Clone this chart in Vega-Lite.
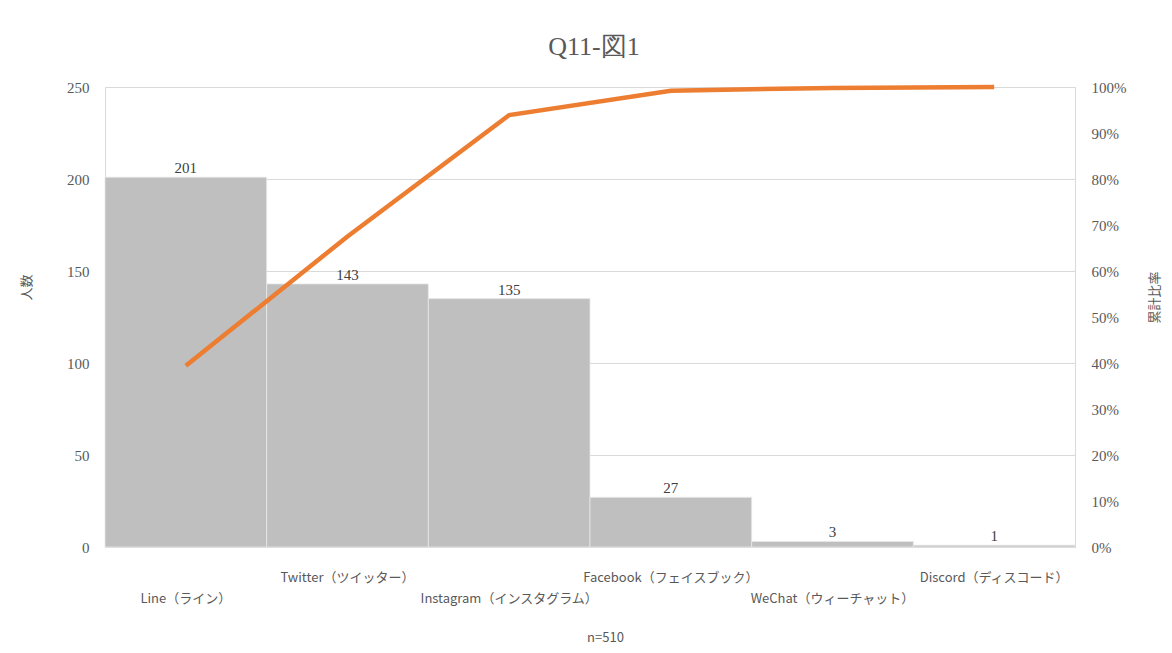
{
  "$schema": "https://vega.github.io/schema/vega-lite/v6.json",
  "width": 970,
  "height": 460,
  "autosize": {"type": "none"},
  "padding": {"left": 105, "top": 87, "right": 97, "bottom": 106},
  "background": "white",
  "title": {
    "text": "Q11-図1",
    "font": "Liberation Serif",
    "fontSize": 26,
    "fontWeight": "normal",
    "color": "#595959",
    "offset": 18,
    "anchor": "middle",
    "dx": 4
  },
  "data": {
    "values": [
      {"sns": "Line（ライン）", "count": 201, "cum": 0.394},
      {"sns": "Twitter（ツイッター）", "count": 143, "cum": 0.675},
      {"sns": "Instagram（インスタグラム）", "count": 135, "cum": 0.939},
      {"sns": "Facebook（フェイスブック）", "count": 27, "cum": 0.992},
      {"sns": "WeChat（ウィーチャット）", "count": 3, "cum": 0.998},
      {"sns": "Discord（ディスコード）", "count": 1, "cum": 1.0}
    ]
  },
  "encoding": {
    "x": {
      "field": "sns",
      "type": "nominal",
      "sort": null,
      "scale": {"paddingInner": 0, "paddingOuter": 0},
      "axis": {
        "title": "n=510",
        "titleFont": "Noto Sans CJK JP",
        "titleFontSize": 13,
        "titleFontWeight": "normal",
        "titleColor": "#595959",
        "titlePadding": 26,
        "titleX": 500,
        "labelAngle": 0,
        "labelFont": "Noto Sans CJK JP",
        "labelFontSize": 13,
        "labelColor": "#595959",
        "labelPadding": {
          "condition": {"test": "indexof(['Line（ライン）','Instagram（インスタグラム）','WeChat（ウィーチャット）'], datum.value) >= 0", "value": 45},
          "value": 24
        },
        "domain": true,
        "domainColor": "#d9d9d9",
        "ticks": false,
        "labelOverlap": false
      }
    }
  },
  "layer": [
    {
      "mark": {"type": "bar", "color": "#bfbfbf", "stroke": "#e8e8e8", "strokeWidth": 0.8},
      "encoding": {
        "y": {
          "field": "count",
          "type": "quantitative",
          "scale": {"domain": [0, 250]},
          "axis": {
            "title": "人数",
            "titleFont": "Noto Sans CJK JP",
            "titleFontSize": 13,
            "titleFontWeight": "normal",
            "titleColor": "#595959",
            "titleX": -72,
            "titleY": 200,
            "values": [0, 50, 100, 150, 200, 250],
            "labelFont": "Liberation Serif",
            "labelFontSize": 15,
            "labelColor": "#595959",
            "labelPadding": 16,
            "domain": false,
            "ticks": false,
            "grid": true,
            "gridColor": "#d9d9d9",
            "gridWidth": 1
          }
        }
      }
    },
    {
      "mark": {"type": "text", "baseline": "bottom", "dy": -1, "font": "Liberation Serif", "fontSize": 15, "color": "#404040"},
      "encoding": {
        "y": {"field": "count", "type": "quantitative", "scale": {"domain": [0, 250]}, "axis": null},
        "text": {"field": "count", "type": "quantitative"}
      }
    },
    {
      "mark": {"type": "line", "color": "#ed7d31", "strokeWidth": 4.5, "strokeCap": "butt"},
      "encoding": {
        "y": {
          "field": "cum",
          "type": "quantitative",
          "scale": {"domain": [0, 1]},
          "axis": {
            "orient": "right",
            "title": "累計比率",
            "titleFont": "Noto Sans CJK JP",
            "titleFontSize": 13,
            "titleFontWeight": "normal",
            "titleColor": "#595959",
            "titleAngle": -90,
            "titleX": 86,
            "titleY": 210,
            "format": ".0%",
            "values": [0, 0.1, 0.2, 0.3, 0.4, 0.5, 0.6, 0.7, 0.8, 0.9, 1],
            "labelFont": "Liberation Serif",
            "labelFontSize": 15,
            "labelColor": "#595959",
            "labelPadding": 16,
            "domain": false,
            "ticks": false,
            "grid": false
          }
        }
      }
    }
  ],
  "resolve": {"scale": {"y": "independent"}},
  "config": {
    "view": {"stroke": "#d9d9d9", "strokeWidth": 1}
  }
}
